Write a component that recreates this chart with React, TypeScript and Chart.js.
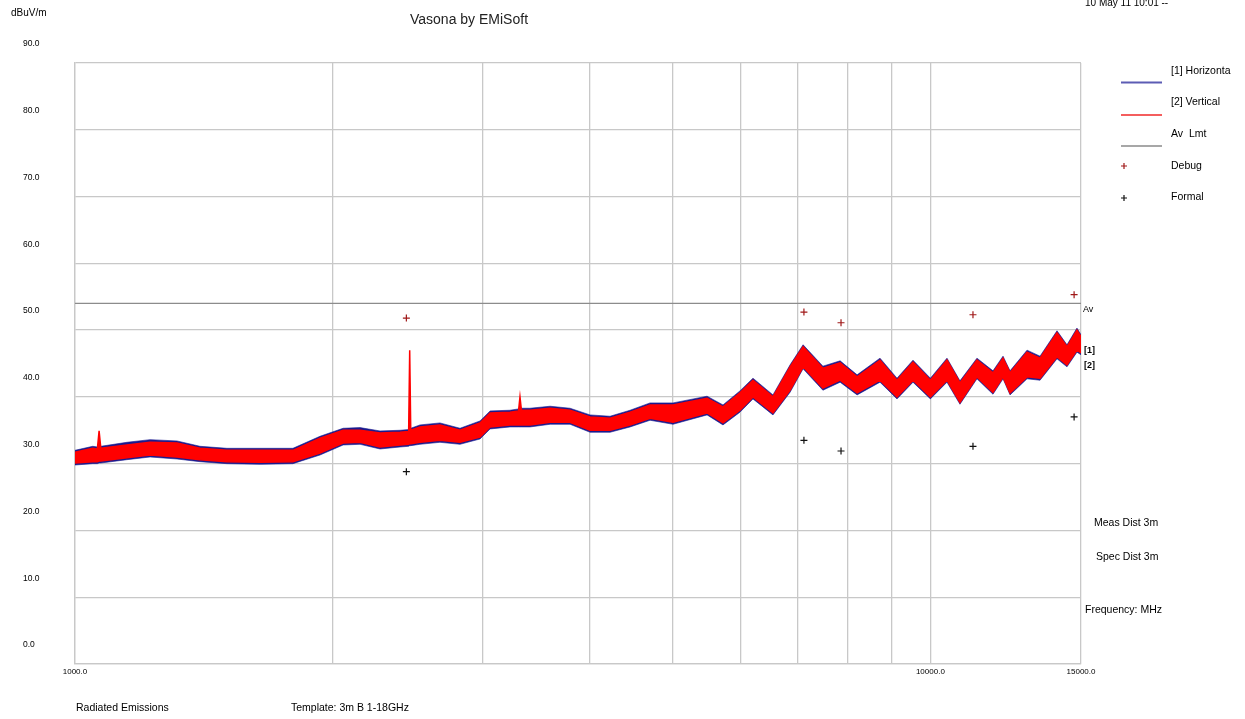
import React, { useEffect, useRef } from "react";
import { Chart, registerables } from "chart.js";

Chart.register(...registerables);

// Frequency sample points (MHz) for the measured envelopes
const freqMHz = [
  1000, 1049, 1062, 1067, 1072, 1150, 1224, 1316, 1400, 1505,
  1646, 1798, 1934, 2058, 2154, 2273, 2399, 2455, 2462, 2469,
  2531, 2671, 2819, 2975, 3057, 3225, 3300, 3313, 3326, 3403,
  3593, 3791, 4001, 4222, 4456, 4702, 5002, 5482, 5722, 5989,
  6203, 6546, 6855, 7099, 7488, 7843, 8210, 8732, 9141, 9543,
  10000, 10457, 10829, 11336, 11836, 12160, 12392, 12972, 13434, 14062,
  14445, 14838, 15000,
];

// [2] Vertical (red) envelope, dBuV/m
const vertHi = [
  31.7, 32.3, 32.2, 34.9, 32.3, 32.8, 33.2, 33.1, 32.3, 32.0,
  32.0, 32.0, 33.8, 35.0, 35.0, 34.6, 34.7, 34.8, 47.0, 35.0,
  35.5, 35.8, 35.0, 36.1, 37.6, 37.7, 37.9, 40.0, 38.0, 38.0,
  38.3, 38.0, 37.0, 36.8, 37.7, 38.8, 38.8, 39.8, 38.5, 40.6,
  42.5, 40.0, 44.5, 47.5, 44.3, 45.1, 43.0, 45.5, 42.5, 45.2,
  42.5, 45.5, 42.1, 45.5, 43.6, 45.8, 43.6, 46.7, 45.8, 49.6,
  47.5, 50.0, 49.0,
];
const vertLo = [
  30.1, 30.3, 30.3, 30.4, 30.4, 30.9, 31.3, 31.0, 30.6, 30.3,
  30.2, 30.3, 31.6, 33.1, 33.2, 32.5, 32.8, 32.9, 33.0, 33.0,
  33.2, 33.5, 33.2, 34.0, 35.5, 35.8, 35.8, 35.8, 35.8, 35.8,
  36.2, 36.2, 35.0, 35.0, 35.8, 36.8, 36.2, 37.6, 36.1, 38.0,
  40.0, 37.6, 41.0, 44.5, 41.3, 42.5, 40.6, 42.5, 40.0, 42.5,
  40.0, 42.5, 39.2, 43.0, 40.7, 43.0, 40.6, 43.0, 42.8, 46.0,
  44.8, 47.0, 46.6,
];

// [1] Horizontal (blue) envelope, dBuV/m
const horizHi = [
  32.0, 32.6, 32.5, 32.6, 32.6, 33.2, 33.6, 33.4, 32.6, 32.3,
  32.3, 32.3, 34.1, 35.3, 35.4, 34.9, 35.0, 35.1, 35.2, 35.3,
  35.8, 36.1, 35.3, 36.4, 37.9, 38.0, 38.2, 38.2, 38.3, 38.3,
  38.6, 38.3, 37.3, 37.1, 38.0, 39.1, 39.1, 40.1, 38.8, 40.9,
  42.8, 40.3, 44.8, 47.8, 44.6, 45.4, 43.3, 45.8, 42.8, 45.5,
  42.8, 45.8, 42.4, 45.8, 43.9, 46.1, 43.9, 47.0, 46.1, 49.9,
  47.8, 50.3, 49.3,
];
const horizLo = [
  29.8, 30.0, 30.0, 30.1, 30.1, 30.6, 31.0, 30.7, 30.3, 30.0,
  29.9, 30.0, 31.3, 32.8, 32.9, 32.2, 32.5, 32.6, 32.7, 32.7,
  32.9, 33.2, 32.9, 33.7, 35.2, 35.5, 35.5, 35.5, 35.5, 35.5,
  35.9, 35.9, 34.7, 34.7, 35.5, 36.5, 35.9, 37.3, 35.8, 37.7,
  39.7, 37.3, 40.7, 44.2, 41.0, 42.2, 40.3, 42.2, 39.7, 42.2,
  39.7, 42.2, 38.9, 42.7, 40.4, 42.7, 40.3, 42.7, 42.5, 45.7,
  44.5, 46.7, 46.3,
];

// Average limit line
const avLimitFreq = [1000, 15000];
const avLimitLevel = [54, 54];

// Debug / Formal markers
const debugFreq = [2440, 7115, 7862, 11215, 14724];
const debugLevel = [51.8, 52.7, 51.1, 52.3, 55.3];
const formalFreq = [2440, 7115, 7862, 11215, 14724];
const formalLevel = [28.8, 33.5, 31.9, 32.6, 37.0];

// Axis ticks
const yMin = 0;
const yMax = 90;
const yStep = 10;
const xGridTicks = [1000, 2000, 3000, 4000, 5000, 6000, 7000, 8000, 9000, 10000, 15000];
const xLabelTicks = [1000, 10000, 15000];

const FONT = '"Liberation Sans", Arial, Helvetica, sans-serif';
const GRID = "#c8c8c8";

export default function App() {
  const ref = useRef<HTMLCanvasElement>(null);

  useEffect(() => {
    document.body.style.margin = "0";
    const canvas = ref.current;
    if (!canvas) return;
    const pts = (xs: number[], ys: number[]) => xs.map((x, i) => ({ x, y: ys[i] }));

    const textPlugin = {
      id: "emisoftTexts",
      afterDraw(chart: any) {
        const c = chart.ctx as CanvasRenderingContext2D;
        c.save();
        const t = (s: string, x: number, y: number, size: number, opts: any = {}) => {
          c.font = `${opts.bold ? "bold " : ""}${size}px ${FONT}`;
          c.fillStyle = opts.color || "#000";
          c.textAlign = opts.align || "left";
          c.textBaseline = opts.baseline || "middle";
          c.fillText(s, x, y);
        };
        t("dBuV/m", 11, 13.5, 10);
        t("Vasona by EMiSoft", 410, 20, 14, { color: "#222" });
        t("10 May 11 10:01 --", 1085, 5.5, 10, { baseline: "alphabetic" });
        // legend
        const legY = [71, 102.5, 134, 166, 197];
        const legT = ["[1] Horizonta", "[2] Vertical", "Av  Lmt", "Debug", "Formal"];
        legT.forEach((s, i) => t(s, 1171, legY[i], 10.5));
        const line = (y: number, col: string, w: number) => {
          c.beginPath();
          c.strokeStyle = col;
          c.lineWidth = w;
          c.moveTo(1121, y);
          c.lineTo(1162, y);
          c.stroke();
        };
        line(82.5, "#5c5cb4", 2);
        line(115, "#f02828", 1.6);
        line(146, "#8a8a8a", 1.6);
        const cross = (x: number, y: number, col: string) => {
          c.beginPath();
          c.strokeStyle = col;
          c.lineWidth = 1.2;
          c.moveTo(x - 3, y);
          c.lineTo(x + 3, y);
          c.moveTo(x, y - 3);
          c.lineTo(x, y + 3);
          c.stroke();
        };
        cross(1124, 166, "#a01818");
        cross(1124, 198, "#111");
        // right-side trace tags
        t("Av", 1083, 309.5, 9);
        t("[1]", 1084, 351, 9, { bold: true });
        t("[2]", 1084, 366, 9, { bold: true });
        t("Meas Dist 3m", 1094, 523.5, 10.5);
        t("Spec Dist 3m", 1096, 557, 10.5);
        t("Frequency: MHz", 1085, 610, 10.5);
        t("Radiated Emissions", 76, 708, 10.5);
        t("Template: 3m B 1-18GHz", 291, 708, 10.5);
        c.restore();
      },
    };

    const chart = new Chart(canvas, {
      type: "line",
      data: {
        datasets: [
          {
            label: "Debug",
            data: pts(debugFreq, debugLevel),
            showLine: false,
            pointStyle: "cross",
            pointRadius: 3.5,
            pointBorderColor: "#a01818",
            pointBorderWidth: 1.2,
            borderColor: "#a01818",
            order: 0,
          },
          {
            label: "Formal",
            data: pts(formalFreq, formalLevel),
            showLine: false,
            pointStyle: "cross",
            pointRadius: 3.5,
            pointBorderColor: "#111",
            pointBorderWidth: 1.2,
            borderColor: "#111",
            order: 1,
          },
          {
            label: "Av Lmt",
            data: pts(avLimitFreq, avLimitLevel),
            borderColor: "#8c8c8c",
            borderWidth: 1.3,
            pointRadius: 0,
            order: 2,
          },
          {
            label: "[2] Vertical hi",
            data: pts(freqMHz, vertHi),
            borderColor: "#ff0000",
            backgroundColor: "#ff0000",
            borderWidth: 1.5,
            pointRadius: 0,
            fill: "+1",
            order: 3,
          },
          {
            label: "[2] Vertical lo",
            data: pts(freqMHz, vertLo),
            borderColor: "#ff0000",
            borderWidth: 1.5,
            pointRadius: 0,
            fill: false,
            order: 4,
          },
          {
            label: "[1] Horizontal hi",
            data: pts(freqMHz, horizHi),
            borderColor: "#1a1a8e",
            backgroundColor: "#1a1a8e",
            borderWidth: 0.6,
            pointRadius: 0,
            fill: "+1",
            order: 5,
          },
          {
            label: "[1] Horizontal lo",
            data: pts(freqMHz, horizLo),
            borderColor: "#1a1a8e",
            borderWidth: 0.6,
            pointRadius: 0,
            fill: false,
            order: 6,
          },
        ],
      },
      options: {
        animation: false,
        responsive: false,
        devicePixelRatio: 1,
        layout: { padding: { left: 23, top: 63, right: 164, bottom: 0 } },
        plugins: {
          legend: { display: false },
          title: { display: false },
          tooltip: { enabled: false },
        },
        elements: { line: { tension: 0 } },
        scales: {
          x: {
            type: "logarithmic",
            min: 1000,
            max: 15000,
            afterBuildTicks: (s: any) => {
              s.ticks = xGridTicks.map((v) => ({ value: v }));
            },
            afterFit: (s: any) => {
              s.height = 55;
            },
            ticks: {
              autoSkip: false,
              maxRotation: 0,
              minRotation: 0,
              padding: 3,
              color: "#000",
              font: { family: FONT, size: 8 },
              callback: (v: any) => (xLabelTicks.includes(Number(v)) ? Number(v).toFixed(1) : ""),
            },
            grid: { color: GRID, lineWidth: 1.3, drawTicks: false },
            border: { color: GRID, width: 1.3 },
          },
          y: {
            type: "linear",
            min: yMin,
            max: yMax,
            afterFit: (s: any) => {
              s.width = 52;
            },
            ticks: {
              stepSize: yStep,
              crossAlign: "far",
              labelOffset: -19,
              color: "#000",
              font: { family: FONT, size: 8.5 },
              callback: (v: any) => Number(v).toFixed(1),
            },
            grid: { color: GRID, lineWidth: 1.3, drawTicks: false },
            border: { color: GRID, width: 1.3 },
          },
        },
      },
      plugins: [textPlugin],
    } as any);

    return () => chart.destroy();
  }, []);

  return (
    <div style={{ width: 1245, height: 719, position: "relative", background: "#fff" }}>
      <canvas ref={ref} width={1245} height={719} style={{ display: "block" }} />
    </div>
  );
}
